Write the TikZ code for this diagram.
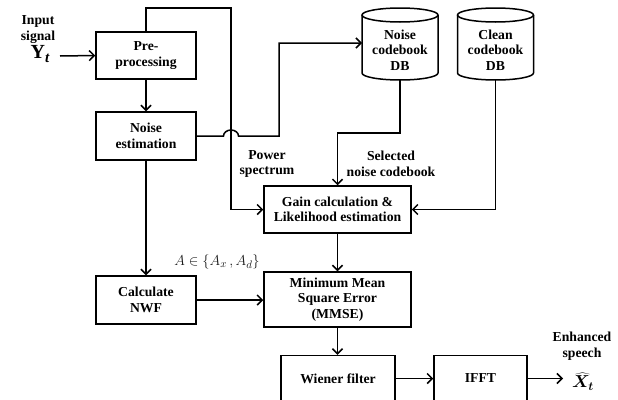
\documentclass[tikz,border=0pt]{standalone}
\usepackage{fontspec}
\setmainfont{Liberation Serif}
\usetikzlibrary{arrows.meta,calc}

\begin{document}
\begin{tikzpicture}[x=1pt,y=-1pt,
  line width=1.5pt,
  txt/.style={align=center, inner sep=0pt, font=\bfseries\fontsize{13.7}{15.5}\selectfont},
  box/.style={txt, draw, line width=1.5pt},
  arr/.style={-{Straight Barb[length=5pt,width=10pt,line width=1.5pt]}},
]
\useasboundingbox (0,0) rectangle (618,399);

% processing blocks
\node[box, minimum width=100pt, minimum height=47pt] (pre)    at (146,55.5) {Pre-\\processing};
\node[box, minimum width=100pt, minimum height=48pt] (noise)  at (146,136)  {Noise\\estimation};
\node[box, minimum width=147pt, minimum height=47pt] (gain)   at (337.5,209.5) {Gain calculation \&\\Likelihood estimation};
\node[box, minimum width=147pt, minimum height=55pt] (mmse)   at (337.5,299.5) {Minimum Mean\\Square Error\\(MMSE)};
\node[box, minimum width=100pt, minimum height=48pt] (nwf)    at (146,300)  {Calculate\\NWF};
\node[box, minimum width=114pt, minimum height=46pt] (wiener) at (338,378.5) {Wiener filter};
\node[box, minimum width=93pt,  minimum height=46pt] (ifft)   at (480.5,378.5) {IFFT};

% codebook databases (cylinders)
\node[txt] (ncb) at (400,50) {Noise\\codebook\\DB};
\node[txt] (ccb) at (495.5,50) {Clean\\codebook\\DB};
\foreach \n in {ncb,ccb}{
  \draw ($(\n)+(-38,-35)$) -- ($(\n)+(-38,23)$)
        arc[start angle=180,end angle=360,x radius=38pt,y radius=7pt]
        -- ($(\n)+(38,-35)$);
  \draw ($(\n)+(0,-35)$) ellipse[x radius=38pt,y radius=7pt];
}
\coordinate (ncbin)  at ($(ncb)+(-38,-7)$);
\coordinate (ncbbot) at ($(ncb)+(0,30)$);
\coordinate (ccbbot) at ($(ccb)+(0,30)$);

% labels
\node[txt] (insig) at (38,29.5) {Input\\signal};
\node[inner sep=0pt, font=\bfseries\fontsize{20}{20}\selectfont] (yt) at (40,54)
  {Y\raisebox{-0.35ex}{\fontsize{15}{15}\selectfont\itshape t}};
\node[txt] (pspec) at (267,164) {Power\\spectrum};
\node[txt] (selnc) at (391,164) {Selected\\noise codebook};
\node[inner sep=0pt, text=black!90, font=\fontsize{15}{15}\selectfont] (aset) at (217,262)
  {$A\in\{A_x\,,A_d\}$};
\node[txt] (enh) at (582,346) {Enhanced\\speech};
\node[inner sep=0pt, font=\fontsize{18}{18}\selectfont\boldmath] (xt) at (583,381.5)
  {$\widehat{X}_{t}$};

% helper points for the connectors
\coordinate (inpt)   at (60,56);
\coordinate (loopTR) at (231,8);
\coordinate (hopL)   at (223.5,136);
\coordinate (psbend) at (279,136);
\coordinate (selbnd) at (337.5,133);
\coordinate (outpt)  at (563,378.5);

% connectors
\draw[arr] (inpt) -- (pre.west);
\draw[arr] (pre.south) -- (noise.north);
\draw[arr] (pre.north) |- (loopTR) |- (gain.west);
\draw[arr] (noise.east) -- (hopL)
  arc[start angle=180,end angle=0,x radius=7.5pt,y radius=6pt]
  -- (psbend) |- (ncbin);
\draw[arr] (ncbbot) |- (selbnd) -- (gain.north);
\draw[arr] (ccbbot) |- (gain.east);
\draw[arr] (gain.south) -- (mmse.north);
\draw[arr] (noise.south) -- (nwf.north);
\draw[arr] (nwf.east) -- (mmse.west |- nwf.east);
\draw[arr] (mmse.south) -- (wiener.north -| mmse.south);
\draw[arr] (wiener.east) -- (ifft.west);
\draw[arr] (ifft.east) -- (outpt);
\end{tikzpicture}
\end{document}
